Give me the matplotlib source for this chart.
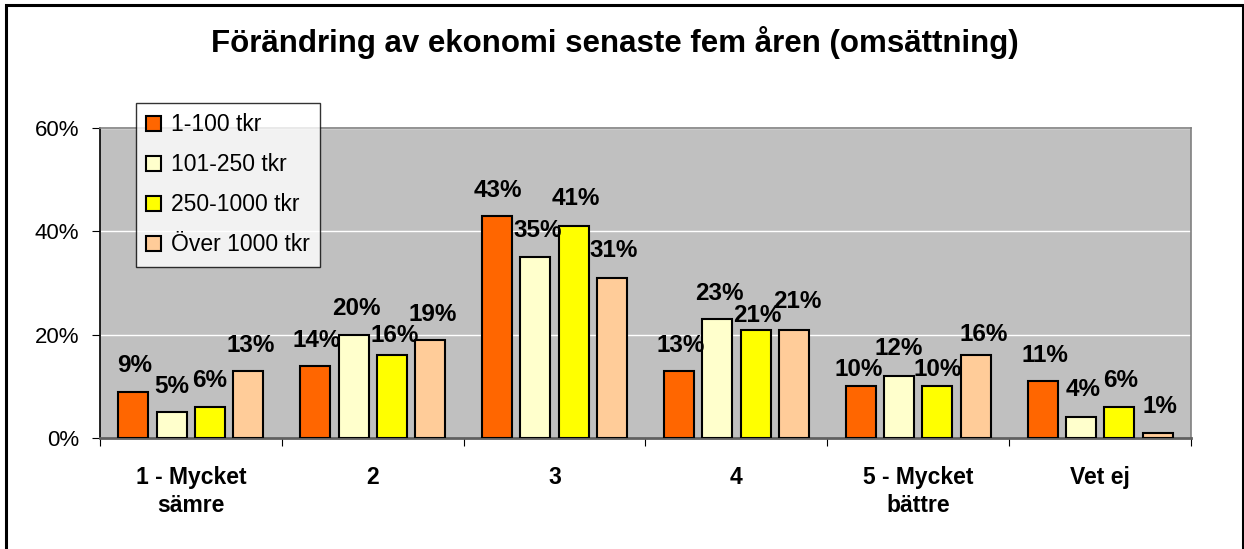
import numpy as np
import matplotlib.pyplot as plt
from matplotlib.patches import Rectangle
from matplotlib.ticker import FuncFormatter

plt.rcParams['font.family'] = ['Liberation Sans', 'DejaVu Sans']

categories = ['1 - Mycket\nsämre', '2', '3', '4', '5 - Mycket\nbättre', 'Vet ej']
series_names = ['1-100 tkr', '101-250 tkr', '250-1000 tkr', 'Över 1000 tkr']
v_1_100 = [9, 14, 43, 13, 10, 11]
v_101_250 = [5, 20, 35, 23, 12, 4]
v_250_1000 = [6, 16, 41, 21, 10, 6]
v_over_1000 = [13, 19, 31, 21, 16, 1]
colors = ['#ff6600', '#ffffcc', '#ffff00', '#ffcc99']

series = [v_1_100, v_101_250, v_250_1000, v_over_1000]

# label lift above bar top (px), tweaked where neighbours crowd each other
lift = [
    [19, 19, 19, 19, 10, 19],
    [19, 20, 20, 19, 21, 21],
    [20, 13, 21, 8, 10, 20],
    [19, 19, 21, 21, 14, 20],
]
shift = [
    [1, 1, 1, 2, -2, 2],
    [0, 3, 2, 2, 0, 2],
    [0, 3, 2, 2, 0, 1],
    [2, 2, 2, 3, 8, 2],
]

W, H = 1244, 549
fig = plt.figure(figsize=(W / 100, H / 100), dpi=100)
ax = fig.add_axes([100 / W, 1 - 438 / H, 1091 / W, 310 / H])
ax.set_facecolor('#c0c0c0')

x = np.arange(len(categories))
step = 0.211
width = 0.165
px = 0.72  # points per pixel at dpi 100
for i, (vals, c, name) in enumerate(zip(series, colors, series_names)):
    pos = x + (i - 1.5) * step
    ax.bar(pos, vals, width=width, color=c, edgecolor='black', linewidth=1.5,
           label=name, zorder=3)
    for j, (p, v) in enumerate(zip(pos, vals)):
        ax.annotate(f'{v}%', (p, v),
                    xytext=(shift[i][j] * px, lift[i][j] * px),
                    textcoords='offset points', ha='center', va='baseline',
                    fontsize=17.5, fontweight='bold', zorder=4)

ax.set_xlim(-0.5, len(categories) - 0.5)
ax.set_ylim(0, 60)
ax.set_yticks([0, 20, 40, 60])
ax.yaxis.set_major_formatter(FuncFormatter(lambda v, _: f'{v:.0f}%'))
ax.grid(axis='y', color='white', linewidth=1, zorder=1)
ax.set_axisbelow(True)

# tick marks between categories, names centred under each group
ax.set_xticks(np.arange(len(categories) + 1) - 0.5)
ax.set_xticklabels([])
ax.set_xticks(x, minor=True)
ax.set_xticklabels(categories, minor=True, fontsize=16.5, fontweight='bold',
                   linespacing=1.3)
ax.tick_params(axis='x', which='minor', length=0, pad=20)
ax.tick_params(axis='x', which='major', length=6, direction='out')
ax.tick_params(axis='y', length=6, direction='out', labelsize=16, pad=9)

for side in ['top', 'right']:
    ax.spines[side].set_color('#808080')
    ax.spines[side].set_linewidth(1.2)
ax.spines['bottom'].set_color('#606060')
ax.spines['bottom'].set_linewidth(2)
ax.spines['left'].set_color('black')
ax.spines['left'].set_linewidth(1.2)

leg = ax.legend(loc='upper left', bbox_to_anchor=(136 / W, 1 - 103 / H),
                bbox_transform=fig.transFigure,
                fontsize=16.5, frameon=True, fancybox=False, edgecolor='black',
                handlelength=0.62, handleheight=0.62, handletextpad=0.45,
                labelspacing=0.74, borderpad=0.45, borderaxespad=0)
leg.get_frame().set_linewidth(1)
leg.get_frame().set_facecolor('white')
leg.set_zorder(10)

fig.text(615 / W, 1 - 52 / H, 'Förändring av ekonomi senaste fem åren (omsättning)',
         ha='center', va='baseline', fontsize=22.5, fontweight='bold')

fig.patches.append(Rectangle((6 / W, -0.01), 1237 / W, 1 - 5 / H + 0.01,
                             transform=fig.transFigure, fill=False,
                             edgecolor='black', linewidth=2.2))

fig.savefig('out.png', dpi=100)
